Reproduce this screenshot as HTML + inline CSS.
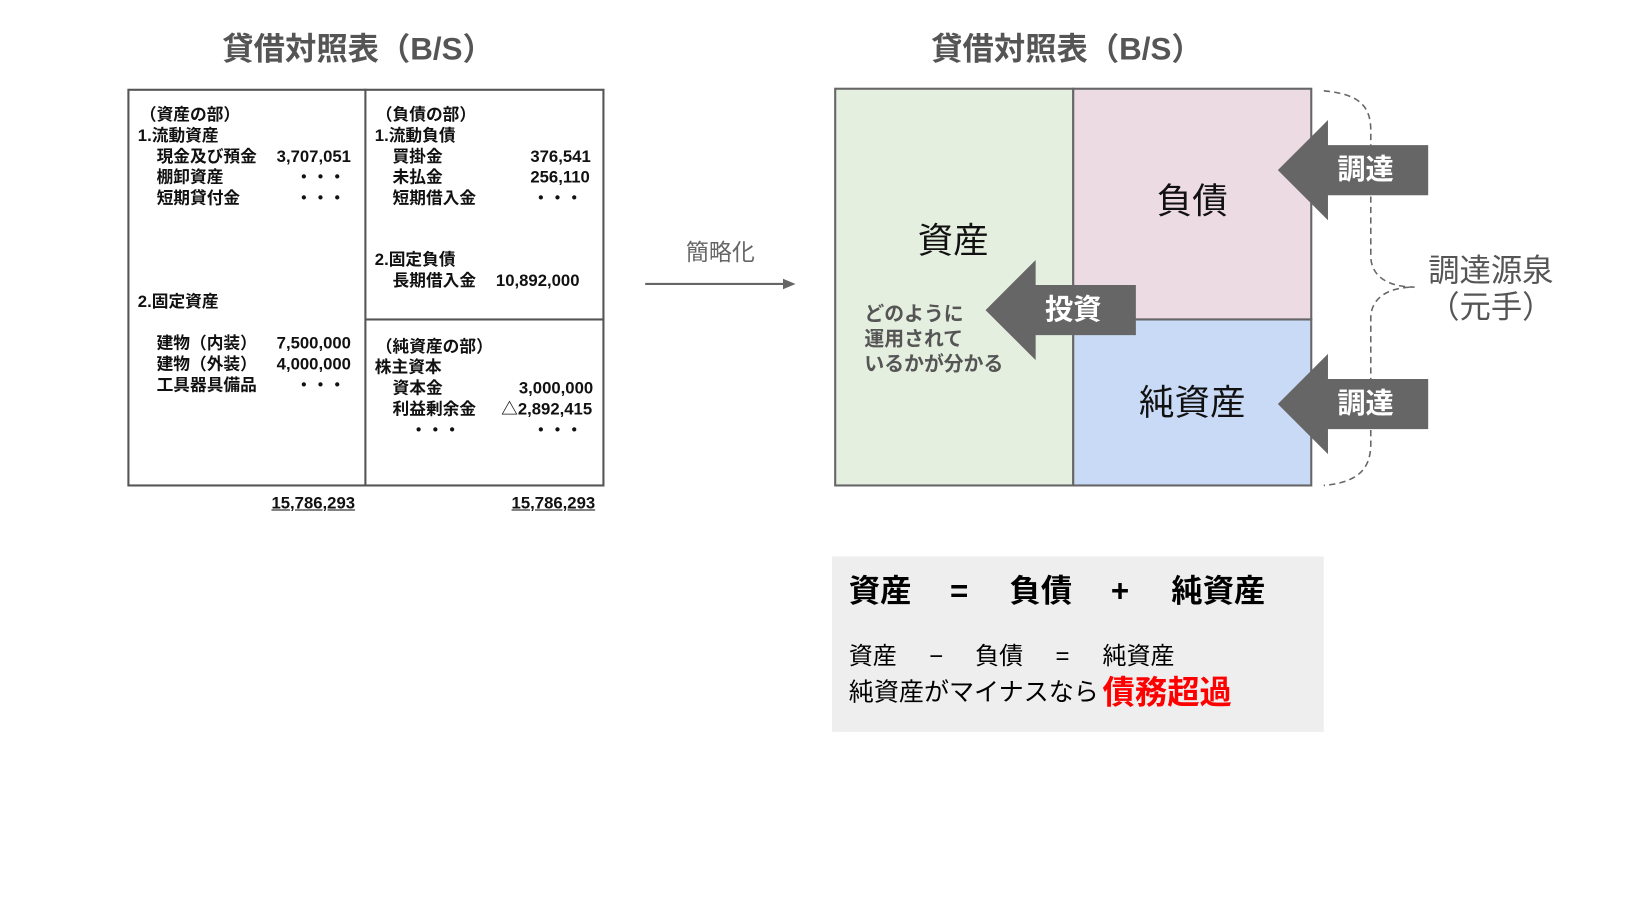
<!DOCTYPE html>
<html><head><meta charset="utf-8"><style>
html,body{margin:0;padding:0;background:#fff;overflow:hidden}
#w{position:absolute;left:0;top:0;width:1560px;height:869px;transform:scale(1.044);transform-origin:0 0;font-family:"Liberation Sans","Noto Sans CJK JP",sans-serif}
.t{position:absolute;white-space:nowrap;line-height:1}
.b{font-weight:bold;font-size:16px;color:#111}
.c{transform:translate(-50%,-50%)}
.box{position:absolute;box-sizing:border-box}
</style></head><body><div id="w">
<div class="t c" style="left:343px;top:48px;font-size:30px;font-weight:bold;color:#555">貸借対照表（B/S）</div>
<div class="t c" style="left:1022px;top:48px;font-size:30px;font-weight:bold;color:#555">貸借対照表（B/S）</div>

<div class="box" style="left:122px;top:85px;width:457px;height:381px;border:2px solid #555"></div>
<div class="box" style="left:349px;top:85px;width:2px;height:381px;background:#555"></div>
<div class="box" style="left:350px;top:305px;width:229px;height:2px;background:#555"></div>

<div class="t b" style="left:134px;top:103px">（資産の部）</div>
<div class="t b" style="left:132px;top:123px">1.流動資産</div>
<div class="t b" style="left:150px;top:143px">現金及び預金</div><div class="t b" style="left:265px;top:143px">3,707,051</div>
<div class="t b" style="left:150px;top:163px">棚卸資産</div><div class="t b" style="left:283px;top:163px">・・・</div>
<div class="t b" style="left:150px;top:183px">短期貸付金</div><div class="t b" style="left:283px;top:183px">・・・</div>
<div class="t b" style="left:132px;top:282px">2.固定資産</div>
<div class="t b" style="left:150px;top:322px">建物（内装）</div><div class="t b" style="left:265px;top:322px">7,500,000</div>
<div class="t b" style="left:150px;top:342px">建物（外装）</div><div class="t b" style="left:265px;top:342px">4,000,000</div>
<div class="t b" style="left:150px;top:362px">工具器具備品</div><div class="t b" style="left:283px;top:362px">・・・</div>

<div class="t b" style="left:360px;top:103px">（負債の部）</div>
<div class="t b" style="left:359px;top:123px">1.流動負債</div>
<div class="t b" style="left:376px;top:143px">買掛金</div><div class="t b" style="left:508px;top:143px">376,541</div>
<div class="t b" style="left:376px;top:163px">未払金</div><div class="t b" style="left:508px;top:163px">256,110</div>
<div class="t b" style="left:376px;top:183px">短期借入金</div><div class="t b" style="left:510px;top:183px">・・・</div>
<div class="t b" style="left:359px;top:242px">2.固定負債</div>
<div class="t b" style="left:376px;top:262px">長期借入金</div><div class="t b" style="left:475px;top:262px">10,892,000</div>
<div class="t b" style="left:360px;top:325px">（純資産の部）</div>
<div class="t b" style="left:359px;top:345px">株主資本</div>
<div class="t b" style="left:376px;top:365px">資本金</div><div class="t b" style="left:497px;top:365px">3,000,000</div>
<div class="t b" style="left:376px;top:385px">利益剰余金</div><div class="t b" style="left:480px;top:385px">△2,892,415</div>
<div class="t b" style="left:393px;top:405px">・・・</div><div class="t b" style="left:510px;top:405px">・・・</div>
<div class="t b" style="left:260px;top:475px;text-decoration:underline">15,786,293</div>
<div class="t b" style="left:490px;top:475px;text-decoration:underline">15,786,293</div>

<div class="t c" style="left:690px;top:242px;font-size:22px;color:#666">簡略化</div>

<svg style="position:absolute;left:0;top:0" width="1560" height="869">
<line x1="618" y1="272" x2="752" y2="272" stroke="#666" stroke-width="2"/>
<polygon points="762,272 750,267 750,277" fill="#666"/>
<rect x="800" y="85" width="228" height="380" fill="#e5efe0" stroke="#666" stroke-width="2"/>
<rect x="1028" y="85" width="228" height="221" fill="#ecdbe3" stroke="#666" stroke-width="2"/>
<rect x="1028" y="306" width="228" height="159" fill="#c9daf6" stroke="#666" stroke-width="2"/>
<polygon points="1224,163 1272,115 1272,139 1368,139 1368,187 1272,187 1272,211" fill="#666"/>
<polygon points="1224,387 1272,339 1272,363 1368,363 1368,411 1272,411 1272,435" fill="#666"/>
<polygon points="944,297 992,249 992,273 1088,273 1088,321 992,321 992,345" fill="#666"/>
<path d="M1268,87 C1300,90 1313,100 1313,125 L1313,245 C1313,265 1330,275 1355,275 C1330,275 1313,285 1313,305 L1313,425 C1313,450 1300,462 1268,465" fill="none" stroke="#666" stroke-width="1.5" stroke-dasharray="6,4"/>
</svg>

<div class="t c" style="left:913px;top:231px;font-size:34px;color:#111">資産</div>
<div class="t c" style="left:1142px;top:193px;font-size:34px;color:#111">負債</div>
<div class="t c" style="left:1142px;top:386px;font-size:34px;color:#111">純資産</div>
<div class="t c" style="left:1308px;top:163px;font-size:27px;font-weight:bold;color:#fff">調達</div>
<div class="t c" style="left:1308px;top:387px;font-size:27px;font-weight:bold;color:#fff">調達</div>
<div class="t c" style="left:1028px;top:297px;font-size:27px;font-weight:bold;color:#fff">投資</div>
<div class="t" style="left:828px;top:290px;font-size:19px;font-weight:bold;color:#555;line-height:24px;white-space:normal;width:200px">どのように<br>運用されて<br>いるかが分かる</div>
<div class="t c" style="left:1428px;top:260px;font-size:30px;color:#555">調達源泉</div>
<div class="t c" style="left:1428px;top:295px;font-size:30px;color:#555">（元手）</div>

<div class="box" style="left:797px;top:533px;width:471px;height:168px;background:#eeeeee"></div>
<div class="t" style="left:813px;top:552px;font-size:30px;font-weight:bold;color:#000">資産</div>
<div class="t" style="left:910px;top:552px;font-size:30px;font-weight:bold;color:#000">=</div>
<div class="t" style="left:967px;top:552px;font-size:30px;font-weight:bold;color:#000">負債</div>
<div class="t" style="left:1064px;top:552px;font-size:30px;font-weight:bold;color:#000">+</div>
<div class="t" style="left:1122px;top:552px;font-size:30px;font-weight:bold;color:#000">純資産</div>
<div class="t" style="left:813px;top:617px;font-size:23px;color:#000">資産</div>
<div class="t" style="left:890px;top:617px;font-size:23px;color:#000">−</div>
<div class="t" style="left:934px;top:617px;font-size:23px;color:#000">負債</div>
<div class="t" style="left:1011px;top:617px;font-size:23px;color:#000">=</div>
<div class="t" style="left:1056px;top:617px;font-size:23px;color:#000">純資産</div>
<div class="t" style="left:813px;top:652px;font-size:24px;color:#000">純資産がマイナスなら</div>
<div class="t" style="left:1056px;top:648px;font-size:31px;font-weight:bold;color:#f00">債務超過</div>
</div></body></html>
